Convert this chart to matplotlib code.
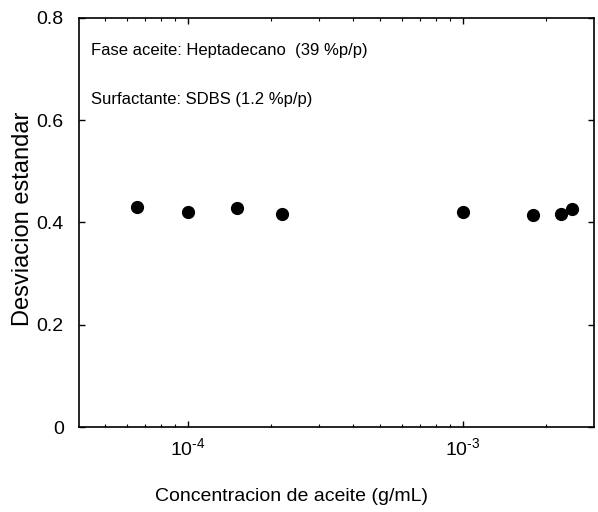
import numpy as np
import matplotlib.pyplot as plt
from matplotlib.ticker import LogLocator, FuncFormatter, MultipleLocator, NullFormatter

plt.rcParams['font.family'] = ['Liberation Sans', 'DejaVu Sans']
plt.rcParams['mathtext.fontset'] = 'custom'
plt.rcParams['mathtext.rm'] = 'Liberation Sans'
plt.rcParams['mathtext.it'] = 'Liberation Sans'

# data
conc = [6.55e-5, 1.0e-4, 1.51e-4, 2.2e-4, 1.0e-3, 1.79e-3, 2.28e-3, 2.5e-3]
desv = [0.431, 0.421, 0.429, 0.417, 0.421, 0.415, 0.417, 0.427]

x_label = "Concentracion de aceite (g/mL)"
y_label = "Desviacion estandar"
note_1 = "Fase aceite: Heptadecano  (39 %p/p)"
note_2 = "Surfactante: SDBS (1.2 %p/p)"

fig = plt.figure(figsize=(5.98, 5.12), dpi=100)
ax = fig.add_axes([0.132, 0.166, 0.861, 0.799])

ax.plot(conc, desv, 'o', color='black', ms=8.5)

ax.set_xscale('log')
ax.set_xlim(4.02e-5, 2.99e-3)
ax.set_ylim(0, 0.8)

ax.xaxis.set_major_locator(LogLocator(base=10))
ax.xaxis.set_minor_locator(LogLocator(base=10, subs=np.arange(2, 10)))
ax.xaxis.set_minor_formatter(NullFormatter())
ax.xaxis.set_major_formatter(FuncFormatter(
    lambda v, p: r'$\mathregular{10^{\text{-}%d}}$' % abs(round(np.log10(v)))))
ax.yaxis.set_major_locator(MultipleLocator(0.2))
ax.yaxis.set_major_formatter(FuncFormatter(lambda v, p: '0' if v == 0 else '%.1f' % v))

ax.tick_params(which='both', direction='in', top=True, right=True)
ax.tick_params(axis='y', labelsize=14, pad=11)
ax.tick_params(axis='x', labelsize=14, pad=7)
ax.tick_params(which='major', length=4, width=1)
ax.tick_params(which='minor', length=2.5, width=0.8)
for s in ax.spines.values():
    s.set_linewidth(1.2)

ax.set_xlabel(x_label, fontsize=14)
ax.xaxis.set_label_coords(0.413, -0.15)
ax.set_ylabel(y_label, fontsize=17)
ax.yaxis.set_label_coords(-0.087, 0.51)

ax.text(0.024, 0.91, note_1, transform=ax.transAxes, fontsize=12, va='baseline')
ax.text(0.024, 0.79, note_2, transform=ax.transAxes, fontsize=12, va='baseline')

fig.savefig('out.png', dpi=100)
